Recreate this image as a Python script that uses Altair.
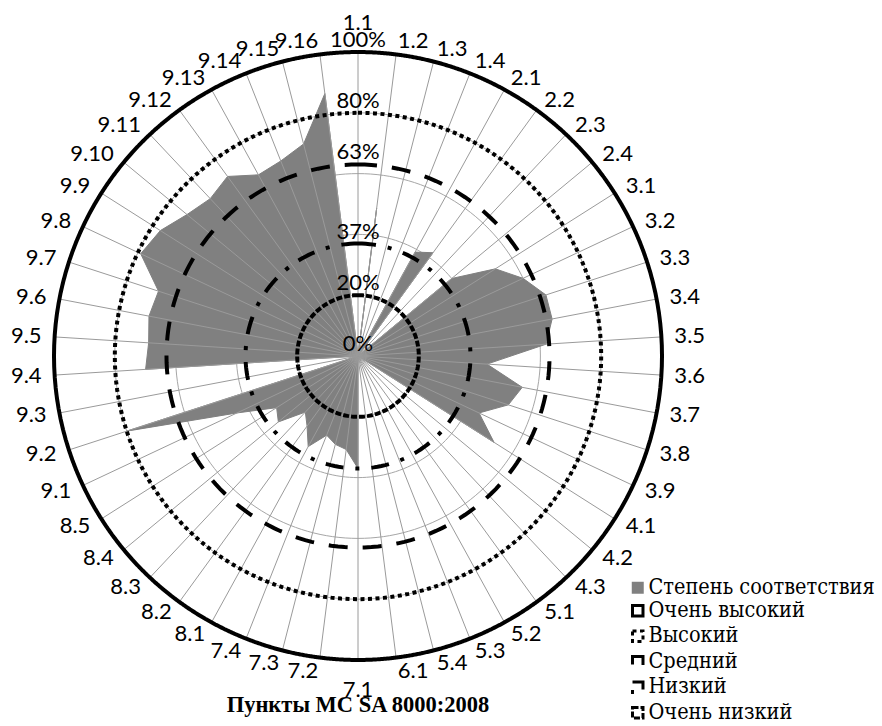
import altair as alt
import pandas as pd

# ---------------- data ----------------
categories = ["1.1", "1.2", "1.3", "1.4", "2.1", "2.2", "2.3", "2.4",
              "3.1", "3.2", "3.3", "3.4", "3.5", "3.6", "3.7", "3.8", "3.9",
              "4.1", "4.2", "4.3", "5.1", "5.2", "5.3", "5.4", "6.1",
              "7.1", "7.2", "7.3", "7.4", "8.1", "8.2", "8.3", "8.4", "8.5",
              "9.1", "9.2", "9.3", "9.4", "9.5", "9.6", "9.7", "9.8", "9.9",
              "9.10", "9.11", "9.12", "9.13", "9.14", "9.15", "9.16"]
compliance = [0.0, 0.49, 0.0, 0.0, 0.39, 0.42, 0.0, 0.40,
              0.535, 0.60, 0.65, 0.65, 0.62, 0.425, 0.55, 0.52, 0.44,
              0.53, 0.0, 0.0, 0.0, 0.0, 0.0, 0.0, 0.0,
              0.37, 0.31, 0.30, 0.28, 0.34, 0.285, 0.253, 0.34, 0.317,
              0.44, 0.80, 0.0, 0.70, 0.69, 0.70, 0.69, 0.79, 0.77,
              0.73, 0.71, 0.73, 0.68, 0.69, 0.72, 0.87]
series_name = "Степень соответствия"
level_names = ["Очень высокий", "Высокий", "Средний", "Низкий", "Очень низкий"]
level_values = [1.0, 0.8, 0.63, 0.37, 0.2]
level_dashes = [[1, 0], [4, 3.5], [19, 15], [18, 12, 4, 12], [6, 2]]
ring_labels = ["0%", "20%", "37%", "63%", "80%", "100%"]
ring_label_values = [0.0, 0.2, 0.37, 0.63, 0.8, 1.0]
grid_values = [0.2, 0.4, 0.6, 0.8, 1.0]
title_text = "Пункты МС SA 8000:2008"

N = len(categories)

cat_df = pd.DataFrame({"idx": list(range(N)), "cat": categories, "value": compliance})
poly_df = pd.concat([cat_df, cat_df.iloc[[0]].assign(idx=N)], ignore_index=True)
poly_df["series"] = series_name

ring_df = pd.DataFrame([{"level": n, "r": v, "deg": d}
                        for n, v in zip(level_names, level_values)
                        for d in range(0, 361, 2)])
grid_df = pd.DataFrame([{"g": g, "deg": d} for g in grid_values for d in range(0, 361, 2)])
rlab_df = pd.DataFrame({"label": ring_labels, "r": ring_label_values})

SERIF_BOLD = "Liberation Serif"
SERIF_LEG = "DejaVu Serif Condensed, DejaVu Serif"
SANS = "Lato"
LEG_FS = 21.5

# ---------------- scales ----------------
W, H = 882, 700
CX, CY, R = 358, 356, 304
xdom = [-CX / R, (W - CX) / R]
ydom = [-(H - CY) / R, CY / R]
X = alt.X("x:Q", scale=alt.Scale(domain=xdom, nice=False, zero=False), axis=None)
Y = alt.Y("y:Q", scale=alt.Scale(domain=ydom, nice=False, zero=False), axis=None)

ang = f"datum.idx * 2 * PI / {N}"

grid = alt.Chart(grid_df).transform_calculate(
    x="datum.g * sin(datum.deg * PI / 180)",
    y="datum.g * cos(datum.deg * PI / 180)",
).mark_line(stroke="#a6a6a6", strokeWidth=1).encode(
    x=X, y=Y, detail="g:N", order="deg:Q")

poly = alt.Chart(poly_df).transform_calculate(
    x=f"datum.value * sin({ang})",
    y=f"datum.value * cos({ang})",
).mark_line(stroke="#808080", strokeWidth=1).encode(
    x=X, y=Y, order="idx:Q",
    fill=alt.Fill("series:N",
                  scale=alt.Scale(domain=[series_name], range=["#808080"]),
                  legend=alt.Legend(title=None, orient="none", legendX=627, legendY=577,
                                    symbolType="square", symbolSize=144,
                                    symbolStrokeWidth=0, labelFont=SERIF_LEG,
                                    labelFontSize=LEG_FS, labelColor="black", labelLimit=400,
                                    labelOffset=0, padding=0)))

spokes = alt.Chart(cat_df).transform_calculate(
    x="0", y="0",
    x1=f"sin({ang})", y1=f"cos({ang})",
).mark_rule(stroke="#9a9a9a", strokeWidth=1).encode(
    x=X, y=Y, x2="x1:Q", y2="y1:Q")

rings = alt.Chart(ring_df).transform_calculate(
    x="datum.r * sin(datum.deg * PI / 180)",
    y="datum.r * cos(datum.deg * PI / 180)",
).mark_line(stroke="black", strokeWidth=4).encode(
    x=X, y=Y, order="deg:Q",
    strokeDash=alt.StrokeDash("level:N",
                              scale=alt.Scale(domain=level_names, range=level_dashes),
                              legend=alt.Legend(title=None, orient="none", legendX=627,
                                                legendY=600, symbolType="square",
                                                symbolSize=110, symbolStrokeWidth=3,
                                                symbolStrokeColor="black",
                                                labelFont=SERIF_LEG, labelLimit=400,
                                                labelFontSize=LEG_FS, labelColor="black",
                                                labelOffset=0, rowPadding=2.5, padding=0)))

lab_base = alt.Chart(cat_df).transform_calculate(
    s=f"sin({ang})", c=f"cos({ang})",
)
A = 317 / R
lab_right = lab_base.transform_filter("datum.s > 1e-6").transform_calculate(
    x=f"{A} * datum.s", y=f"{A} * datum.c",
).mark_text(font=SANS, fontSize=22, color="black", align="left",
            baseline="middle").encode(x=X, y=Y, text="cat:N")
lab_left = lab_base.transform_filter("datum.s < -1e-6").transform_calculate(
    x=f"{A} * datum.s", y=f"{A} * datum.c",
).mark_text(font=SANS, fontSize=22, color="black", align="right",
            baseline="middle").encode(x=X, y=Y, text="cat:N")
lab_vert = lab_base.transform_filter("abs(datum.s) <= 1e-6").transform_calculate(
    x="0", y="datum.c > 0 ? 1.094 : -1.1",
).mark_text(font=SANS, fontSize=22, color="black", align="center",
            baseline="middle").encode(x=X, y=Y, text="cat:N")

rlab = alt.Chart(rlab_df).transform_calculate(
    x="0", y="datum.r",
).mark_text(font=SANS, fontSize=22, color="black", align="center",
            baseline="line-bottom", dy=1).encode(
    x=X, y=Y, text="label:N")

chart = alt.layer(grid, poly, spokes, rings, rlab, lab_right, lab_left, lab_vert).properties(
    width=W, height=H,
    padding={"left": 0, "top": 0, "right": 0, "bottom": 26},
    autosize=alt.AutoSizeParams(type="none"),
    title=alt.TitleParams(title_text, orient="bottom", anchor="middle", frame="group",
                          dx=CX - W / 2, offset=-30, font=SERIF_BOLD, fontSize=22.5,
                          fontWeight="bold", color="black"),
).configure_view(stroke=None)

chart.save("out.html", embed_options={"renderer": "svg", "actions": False})
